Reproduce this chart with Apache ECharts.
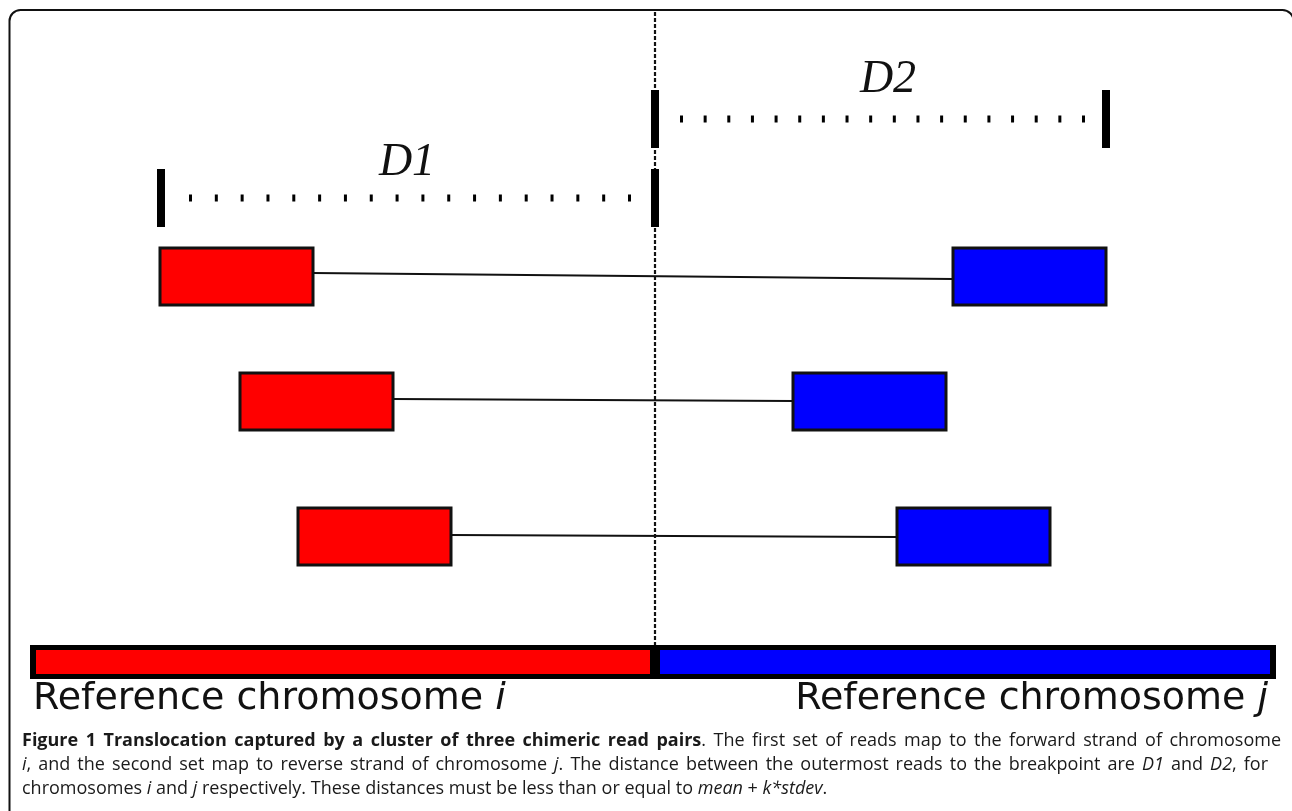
<!DOCTYPE html>
<html><head><meta charset="utf-8">
<script src="https://cdn.jsdelivr.net/npm/echarts@6/dist/echarts.min.js"></script>
<style>html,body{margin:0;padding:0;background:#fff}#c{width:1292px;height:811px}</style>
</head><body><div id="c"></div>
<script>
// ---- diagram data (x: genome position units, y: lane units) ----
const breakpointPos = 655;
const readLength = 153;
const readRowTop = [248, 373, 508];
const readRowBottom = [305, 430, 565];
const forwardReadStart = [160, 240, 298];   // reads on chromosome i (forward strand)
const reverseReadStart = [953, 793, 897];   // mates on chromosome j (reverse strand)
const linkLeftLevel = [273, 399, 535];
const linkRightLevel = [279, 401, 537];

const distanceLabels = ['D1', 'D2'];
const distanceFrom = [161, 655];
const distanceTo = [655, 1106];
const distanceLevel = [198, 119];
const distanceFirstDash = [189, 680];
const distanceLastDash = [628, 1082];
const distanceDashCount = [18, 18];
const distanceLabelX = [407, 888];
const distanceLabelY = [163, 80];

const chromosomeNames = ['Reference chromosome ', 'Reference chromosome '];
const chromosomeLetters = ['i', 'j'];
const chromosomeStart = [30, 655];
const chromosomeEnd = [655, 1276];
const chromosomeColors = ['#ff0000', '#0000ff'];
const chromosomeTop = 645, chromosomeBottom = 679;
const breakpointTop = 12;

const captionLines = [
  [['b', 'Figure 1 Translocation captured by a cluster of three chimeric read pairs'], ['n', '. The first set of reads map to the forward strand of chromosome']],
  [['i', 'i'], ['n', ', and the second set map to reverse strand of chromosome '], ['i', 'j'], ['n', '. The distance between the outermost reads to the breakpoint are '], ['i', 'D1'], ['n', ' and '], ['i', 'D2'], ['n', ', for']],
  [['n', 'chromosomes '], ['i', 'i'], ['n', ' and '], ['i', 'j'], ['n', ' respectively. These distances must be less than or equal to '], ['i', 'mean'], ['n', ' + '], ['i', 'k*stdev'], ['n', '.']]
];

// ---- chart ----
const chart = echarts.init(document.getElementById('c'));
const INK = '#000';

function px(api, x, y) { return api.coord([x, y]); }

const readSeries = {
  type: 'custom',
  data: readRowTop.map((_, i) => [i]),
  renderItem: function (params, api) {
    const i = params.dataIndex;
    const children = [];
    const fL = px(api, forwardReadStart[i], readRowTop[i]);
    const fR = px(api, forwardReadStart[i] + readLength, readRowBottom[i]);
    const rL = px(api, reverseReadStart[i], readRowTop[i]);
    const rR = px(api, reverseReadStart[i] + readLength, readRowBottom[i]);
    const a = px(api, forwardReadStart[i] + readLength, linkLeftLevel[i]);
    const b = px(api, reverseReadStart[i], linkRightLevel[i]);
    children.push({ type: 'line', shape: { x1: a[0], y1: a[1], x2: b[0], y2: b[1] }, style: { stroke: '#111', lineWidth: 1.8 } });
    children.push({ type: 'rect', shape: { x: fL[0], y: fL[1], width: fR[0] - fL[0], height: fR[1] - fL[1] }, style: { fill: '#ff0000', stroke: '#111', lineWidth: 3 } });
    children.push({ type: 'rect', shape: { x: rL[0], y: rL[1], width: rR[0] - rL[0], height: rR[1] - rL[1] }, style: { fill: '#0000ff', stroke: '#111', lineWidth: 3 } });
    return { type: 'group', children };
  }
};

const breakpointSeries = {
  type: 'custom',
  data: [[breakpointPos]],
  z: 5,
  renderItem: function (params, api) {
    const a = px(api, breakpointPos, breakpointTop);
    const b = px(api, breakpointPos, chromosomeTop);
    return { type: 'line', shape: { x1: a[0], y1: a[1], x2: b[0], y2: b[1] }, style: { stroke: '#111', lineWidth: 2.2, lineDash: [4, 2] } };
  }
};

const distanceSeries = {
  type: 'custom',
  data: distanceLabels.map((_, i) => [i]),
  z: 6,
  renderItem: function (params, api) {
    const i = params.dataIndex;
    const children = [];
    const half = 29;
    [distanceFrom[i], distanceTo[i]].forEach(x => {
      const t = px(api, x, distanceLevel[i] - half), bt = px(api, x, distanceLevel[i] + half);
      children.push({ type: 'rect', shape: { x: t[0] - 4, y: t[1], width: 8, height: bt[1] - t[1] }, style: { fill: INK } });
    });
    const n = distanceDashCount[i];
    const s = px(api, distanceFirstDash[i], distanceLevel[i]);
    const e = px(api, distanceLastDash[i], distanceLevel[i]);
    const step = (e[0] - s[0]) / (n - 1);
    children.push({ type: 'line', shape: { x1: s[0], y1: s[1], x2: e[0] + 3, y2: e[1] }, style: { stroke: INK, lineWidth: 7, lineDash: [3, step - 3], lineCap: 'butt' } });
    const l = px(api, distanceLabelX[i], distanceLabelY[i]);
    children.push({ type: 'text', x: l[0], y: l[1], style: { text: distanceLabels[i], font: 'italic 46px "Liberation Serif"', fill: '#111', align: 'center', verticalAlign: 'middle' } });
    return { type: 'group', children };
  }
};

const chromosomeSeries = {
  type: 'custom',
  data: chromosomeStart.map((_, i) => [i]),
  z: 4,
  renderItem: function (params, api) {
    const i = params.dataIndex;
    const t = px(api, chromosomeStart[i], chromosomeTop);
    const b = px(api, chromosomeEnd[i], chromosomeBottom);
    const children = [];
    children.push({ type: 'rect', shape: { x: t[0], y: t[1], width: b[0] - t[0], height: b[1] - t[1] }, style: { fill: INK } });
    const inL = i === 0 ? 6 : 5, inR = i === 0 ? 5 : 6;
    children.push({ type: 'rect', shape: { x: t[0] + inL, y: t[1] + 5, width: b[0] - t[0] - inL - inR, height: b[1] - t[1] - 10 }, style: { fill: chromosomeColors[i] } });
    const lx = i === 0 ? px(api, chromosomeStart[i] + 3, 0)[0] : px(api, chromosomeEnd[i] - 8, 0)[0];
    const ly = px(api, 0, 699)[1];
    children.push({ type: 'text', x: lx, y: ly, style: {
      text: '{n|' + chromosomeNames[i] + '}{i|' + chromosomeLetters[i] + '}',
      align: i === 0 ? 'left' : 'right', verticalAlign: 'middle',
      rich: { n: { font: '38px "DejaVu Sans"', fill: '#111' }, i: { font: 'oblique 38px "DejaVu Sans"', fill: '#111' } }
    } });
    return { type: 'group', children };
  }
};

// caption, word-justified
const fonts = { b: 'bold 18px "Open Sans"', n: '18px "Open Sans"', i: 'italic 18px "Open Sans"' };
const mctx = document.createElement('canvas').getContext('2d');
function measure(font, t) { mctx.font = font; return mctx.measureText(t).width; }
function layoutLine(segs, x0, x1, y, justify) {
  const words = []; let cur = [];
  segs.forEach(([st, txt]) => {
    let buf = '';
    for (const ch of txt) {
      if (ch === ' ') {
        if (buf) { cur.push([st, buf]); buf = ''; }
        if (cur.length) { words.push(cur); cur = []; }
      } else buf += ch;
    }
    if (buf) cur.push([st, buf]);
  });
  if (cur.length) words.push(cur);
  const widths = words.map(w => w.reduce((s, [st, t]) => s + measure(fonts[st], t), 0));
  const total = widths.reduce((a, b) => a + b, 0);
  const space = measure(fonts.n, ' ');
  let gap = justify ? (x1 - x0 - total) / (words.length - 1) : space;
  let sx = 1;
  if (gap < space * 0.7) { gap = space * 0.7; sx = (x1 - x0 - gap * (words.length - 1)) / total; }
  const els = []; let x = x0;
  words.forEach((w, k) => {
    let xx = x;
    w.forEach(([st, t]) => {
      els.push({ type: 'text', x: xx, y: y, scaleX: sx, style: { text: t, font: fonts[st], fill: '#1a1a1a', verticalAlign: 'middle' } });
      xx += measure(fonts[st], t) * sx;
    });
    x += widths[k] * sx + gap;
  });
  return els;
}
const captionEls = []
  .concat(layoutLine(captionLines[0], 22, 1281, 741, true))
  .concat(layoutLine(captionLines[1], 22, 1268, 765, true))
  .concat(layoutLine(captionLines[2], 22, 0, 789, false));

chart.setOption({
  animation: false,
  grid: { left: 0, right: 0, top: 0, bottom: 0 },
  xAxis: { type: 'value', min: 0, max: 1292, show: false },
  yAxis: { type: 'value', min: 0, max: 811, inverse: true, show: false },
  series: [readSeries, breakpointSeries, distanceSeries, chromosomeSeries],
  graphic: [
    { type: 'rect', shape: { x: 9.5, y: 10, width: 1284, height: 900, r: 11 }, style: { fill: 'none', stroke: '#111', lineWidth: 2 }, z: 100 }
  ].concat(captionEls)
});
</script></body></html>
